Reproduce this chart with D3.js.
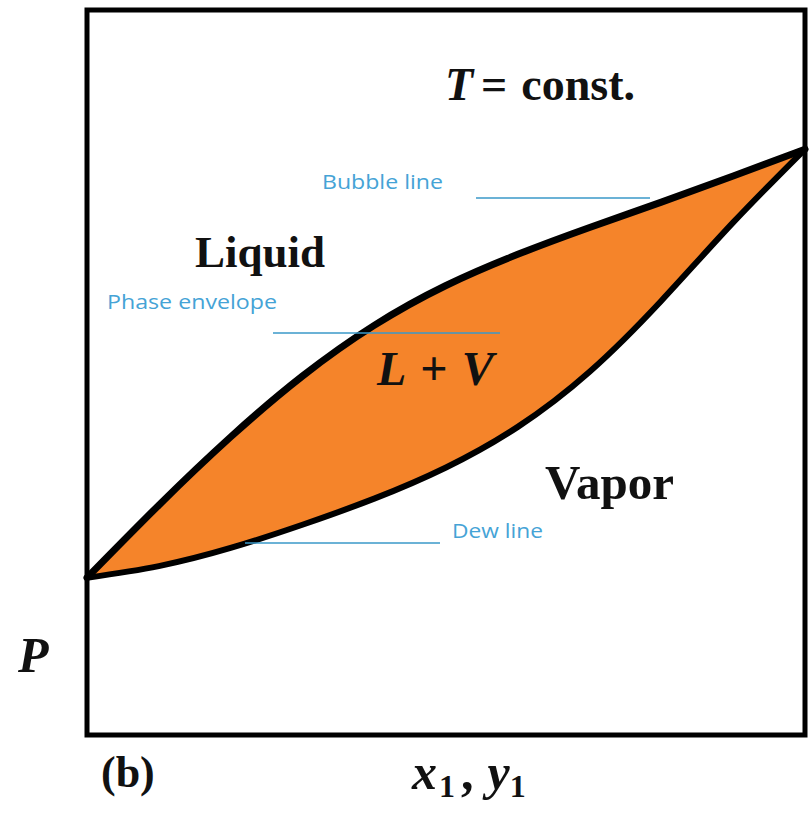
<!DOCTYPE html>
<html>
<head>
<meta charset="utf-8">
<script src="https://cdn.jsdelivr.net/npm/d3@7"></script>
<style>
  html, body { margin: 0; padding: 0; background: #fff; }
  svg { display: block; }
</style>
</head>
<body>
<svg id="chart" width="809" height="818"></svg>
<script>
// Mole fraction of component 1 (x1 for the liquid, y1 for the vapour)
const composition = [0, 0.1, 0.2, 0.3, 0.4, 0.5, 0.6, 0.7, 0.8, 0.9, 1];
// Pressure on the bubble line (saturated liquid), arbitrary units
const bubbleP = [21.7, 31.7, 41.1, 49.5, 56.5, 62.0, 66.3, 70.0, 73.5, 77.1, 80.8];
// Pressure on the dew line (saturated vapour), arbitrary units
const dewP = [21.7, 23.3, 25.8, 29.0, 32.6, 36.9, 42.5, 50.1, 59.9, 70.7, 80.8];

const xDomain = [0, 1];
const pDomain = [0, 100];

const svg = d3.select("#chart");
const x = d3.scaleLinear().domain(xDomain).range([87, 805]);
const y = d3.scaleLinear().domain(pDomain).range([735, 10]);

const rows = composition.map((c, i) => ({ c, bub: bubbleP[i], dew: dewP[i] }));
const curve = d3.curveNatural;

// Two-phase region between the curves
svg.append("path")
  .datum(rows)
  .attr("fill", "#f5842a")
  .attr("d", d3.area().curve(curve)
    .x(d => x(d.c)).y0(d => y(d.dew)).y1(d => y(d.bub)));

// Bubble and dew lines
const bubbleLine = d3.line().curve(curve).x(d => x(d.c)).y(d => y(d.bub));
const dewLine = d3.line().curve(curve).x(d => x(d.c)).y(d => y(d.dew));
svg.append("path").datum(rows).attr("fill", "none").attr("stroke", "#000")
  .attr("stroke-width", 7).attr("stroke-linejoin", "round").attr("stroke-linecap", "round")
  .attr("d", bubbleLine);
svg.append("path").datum(rows).attr("fill", "none").attr("stroke", "#000")
  .attr("stroke-width", 6).attr("stroke-linejoin", "round").attr("stroke-linecap", "round")
  .attr("d", dewLine);

// Frame of the plot
svg.append("rect")
  .attr("x", x.range()[0]).attr("y", y.range()[1])
  .attr("width", x.range()[1] - x.range()[0])
  .attr("height", y.range()[0] - y.range()[1])
  .attr("fill", "none").attr("stroke", "#000").attr("stroke-width", 5);

const serif = "'Liberation Serif', 'DejaVu Serif', serif";

function label(px, py, size, parts) {
  const t = svg.append("text").attr("x", px).attr("y", py)
    .attr("font-family", serif).attr("font-size", size)
    .attr("font-weight", "bold").attr("fill", "#111");
  parts.forEach(p => {
    const s = t.append("tspan").text(p.text);
    if (p.italic) s.attr("font-style", "italic");
    if (p.dx) s.attr("dx", p.dx);
    if (p.dy) s.attr("dy", p.dy);
    if (p.size) s.attr("font-size", p.size);
  });
  return t;
}

label(445, 100, 46, [{ text: "T", italic: true }, { text: "=", dx: 8 }, { text: "const.", dx: 14 }]);
label(195, 267, 45, [{ text: "Liquid" }]);
label(377, 385, 48, [{ text: "L", italic: true }, { text: "+", dx: 14 }, { text: "V", dx: 14, italic: true }]);
label(545, 499, 49, [{ text: "Vapor" }]);
label(18, 672, 50, [{ text: "P", italic: true }]);
label(101, 787, 44, [{ text: "(b)" }]);
label(412, 789, 50, [
  { text: "x", italic: true },
  { text: "1", size: 32, dy: 8, dx: 2 },
  { text: ",", dy: -8, dx: 6 },
  { text: "y", italic: true, dx: 14 },
  { text: "1", size: 32, dy: 8 }
]);

// Blue annotations with leader lines
const notes = [
  { text: "Bubble line", tx: 322, ty: 189, w: 121, x1: 476, x2: 650, ly: 198 },
  { text: "Phase envelope", tx: 107, ty: 309, w: 170, x1: 273, x2: 500, ly: 333 },
  { text: "Dew line", tx: 452, ty: 538, w: 91, x1: 245, x2: 440, ly: 543 }
];
notes.forEach(n => {
  svg.append("line").attr("x1", n.x1).attr("x2", n.x2)
    .attr("y1", n.ly).attr("y2", n.ly)
    .attr("stroke", "#3a98c8").attr("stroke-width", 1.5);
  svg.append("text").attr("x", n.tx).attr("y", n.ty)
    .attr("font-family", "'Open Sans', 'Noto Sans', sans-serif")
    .attr("font-size", 20).attr("fill", "#45a3d6")
    .attr("textLength", n.w).attr("lengthAdjust", "spacingAndGlyphs")
    .text(n.text);
});
</script>
</body>
</html>
